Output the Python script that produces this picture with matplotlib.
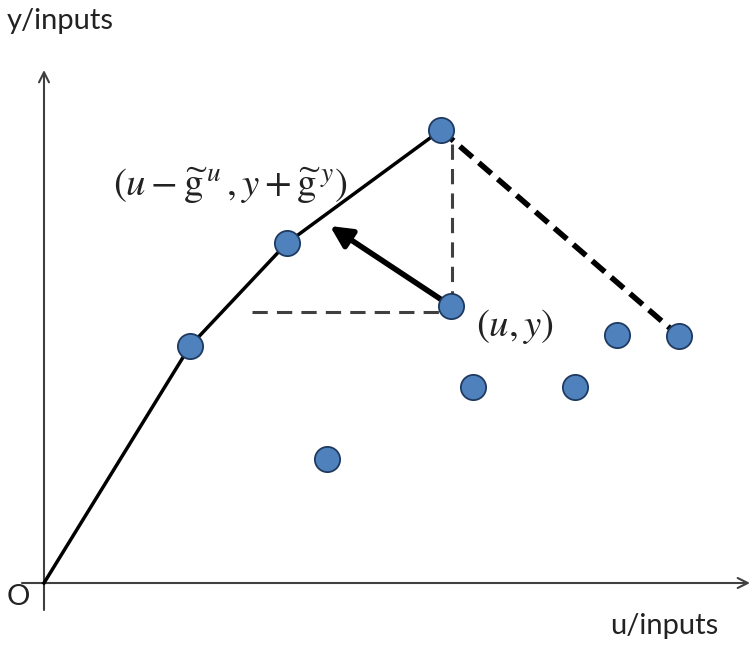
import matplotlib
matplotlib.use('Agg')
import matplotlib.pyplot as plt

# ============================================================
# DATA (u, y) measured from origin O
# ============================================================

# all observed units
dot_u = [146, 243, 397, 407, 573, 635, 429, 531, 283]
dot_y = [237, 340, 453, 277, 248, 247, 196, 196, 124]

# efficient frontier (solid)
frontier_u = [0, 146, 243, 397]
frontier_y = [0, 237, 340, 453]

# extension of the frontier (thick dashed)
ext_u = [397, 635]
ext_y = [453, 247]

# evaluated unit (u, y) and its projection direction
unit_u, unit_y = 407, 277
proj_u, proj_y = 286, 357

# guide lines (thin grey dashed)
hguide_u = [208, 407]
hguide_y = [271, 271]
vguide_u = [408, 408]
vguide_y = [277, 445]

# ============================================================
# PLOT
# ============================================================

plt.rcParams['mathtext.fontset'] = 'stix'

fig = plt.figure(figsize=(7.51, 6.46), dpi=100)
ax = fig.add_axes([0, 0, 1, 1])
ax.set_xlim(-44, 707)
ax.set_ylim(-63, 583)
ax.axis('off')

axis_col = '#404040'
# axes with arrows
ax.annotate('', xy=(706, 0), xytext=(-22, 0),
            arrowprops=dict(arrowstyle='->', color=axis_col, lw=1.5,
                            mutation_scale=18, shrinkA=0, shrinkB=0))
ax.annotate('', xy=(0, 513), xytext=(0, -27),
            arrowprops=dict(arrowstyle='->', color=axis_col, lw=1.5,
                            mutation_scale=18, shrinkA=0, shrinkB=0))

# guide lines
ax.plot(hguide_u, hguide_y, '--', color=axis_col, lw=2.2, dashes=(5, 3))
ax.plot(vguide_u, vguide_y, '--', color=axis_col, lw=2.2, dashes=(5, 3))

# frontier
ax.plot(frontier_u, frontier_y, color='black', lw=2.5, zorder=3)
ax.plot(ext_u, ext_y, color='black', lw=4, dashes=(3, 1.5), zorder=3)

# projection arrow
ax.annotate('', xy=(proj_u, proj_y), xytext=(unit_u, unit_y),
            arrowprops=dict(arrowstyle='-|>', color='black', lw=4,
                            mutation_scale=32, shrinkA=0, shrinkB=0),
            zorder=4)

# units
ax.scatter(dot_u, dot_y, s=330, color='#4F81BD', edgecolor='#1F3A60',
           linewidth=1.3, zorder=5)

# text
ax.text(69, 397,
        r'$(u-\widetilde{\mathrm{g}}^{\,u}\,,y+\widetilde{\mathrm{g}}^{\,y})$',
        fontsize=28, va='center', ha='left', color='#222222')
ax.text(432, 256, r'$(u,y)$', fontsize=28, va='center', ha='left',
        color='#222222')

lab_font = dict(family=['Lato', 'DejaVu Sans'], fontsize=21, color='#222222')
ax.text(-37, 562, 'y/inputs', va='center', ha='left', **lab_font)
ax.text(566, -43, 'u/inputs', va='center', ha='left', **lab_font)
ax.text(-37, -14, 'O', va='center', ha='left', **lab_font)

plt.savefig('out.png', dpi=100)
